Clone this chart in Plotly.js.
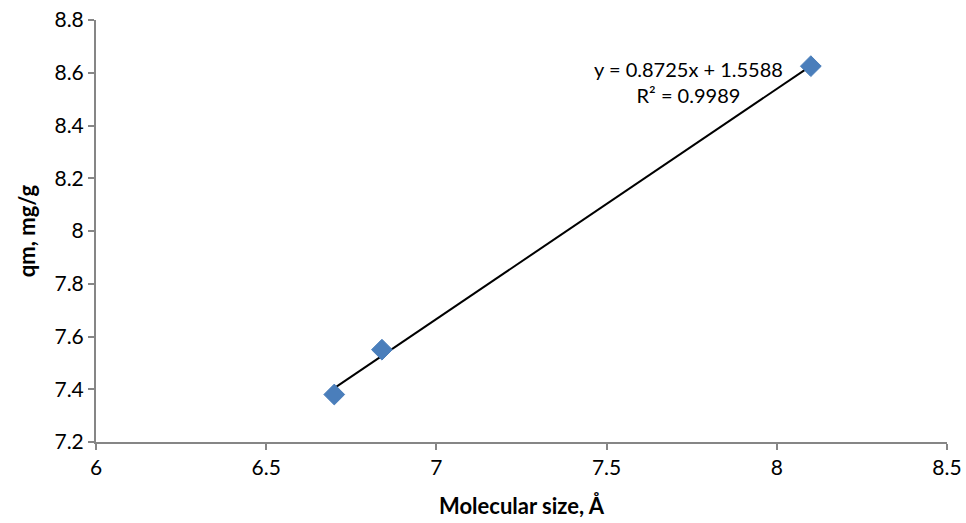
<!DOCTYPE html>
<html>
<head>
<meta charset="utf-8">
<script src="https://cdn.plot.ly/plotly-3.0.1.min.js"></script>
<style>html,body{margin:0;padding:0;background:#fff}#chart{width:966px;height:523px}</style>
</head>
<body>
<div id="chart"></div>
<script>
const molecularSize = [6.70, 6.84, 8.10];
const qm = [7.38, 7.55, 8.625];
const slope = 0.8725;
const intercept = 1.5588;
const r2 = 0.9989;
const xTicks = [6, 6.5, 7, 7.5, 8, 8.5];
const yTicks = [7.2, 7.4, 7.6, 7.8, 8, 8.2, 8.4, 8.6, 8.8];

const xMin = Math.min(...molecularSize), xMax = Math.max(...molecularSize);
const trendX = [xMin, xMax];
const trendY = trendX.map(v => slope * v + intercept);

const fontFam = 'Lato, "Open Sans", sans-serif';
const data = [
  {x: trendX, y: trendY, mode: 'lines', type: 'scatter',
   line: {color: '#000000', width: 2}, hoverinfo: 'skip', showlegend: false},
  {x: molecularSize, y: qm, mode: 'markers', type: 'scatter',
   marker: {symbol: 'diamond', size: 16, color: '#4a7ebb', line: {color: '#4a7ebb', width: 1}},
   showlegend: false}
];
const axisCommon = {
  showgrid: false, zeroline: false, showline: true, linecolor: '#868686', linewidth: 2,
  ticks: 'outside', ticklen: 6, tickcolor: '#868686', tickwidth: 2,
  tickfont: {family: fontFam, size: 21, color: '#000'}
};
const layout = {
  width: 966, height: 523,
  margin: {l: 96, r: 19, t: 20, b: 81},
  paper_bgcolor: '#fff', plot_bgcolor: '#fff',
  xaxis: Object.assign({}, axisCommon, {
    range: [6, 8.5], tickvals: xTicks, ticktext: xTicks.map(String),
    title: {text: '<b>Molecular size, Å</b>', font: {family: fontFam, size: 22, color: '#000'}, standoff: 20}
  }),
  yaxis: Object.assign({}, axisCommon, {
    range: [7.2, 8.8], tickvals: yTicks, ticktext: yTicks.map(String),
    title: {text: '<b>qm, mg/g</b>', font: {family: fontFam, size: 22, color: '#000'}, standoff: 13}
  }),
  annotations: [{
    x: 7.74, y: 8.565, xref: 'x', yref: 'y', showarrow: false, align: 'center',
    text: 'y = 0.8725x + 1.5588<br>R² = ' + r2.toFixed(4),
    font: {family: fontFam, size: 20, color: '#000'}
  }]
};
Plotly.newPlot('chart', data, layout, {displayModeBar: false, staticPlot: true});
</script>
</body>
</html>
